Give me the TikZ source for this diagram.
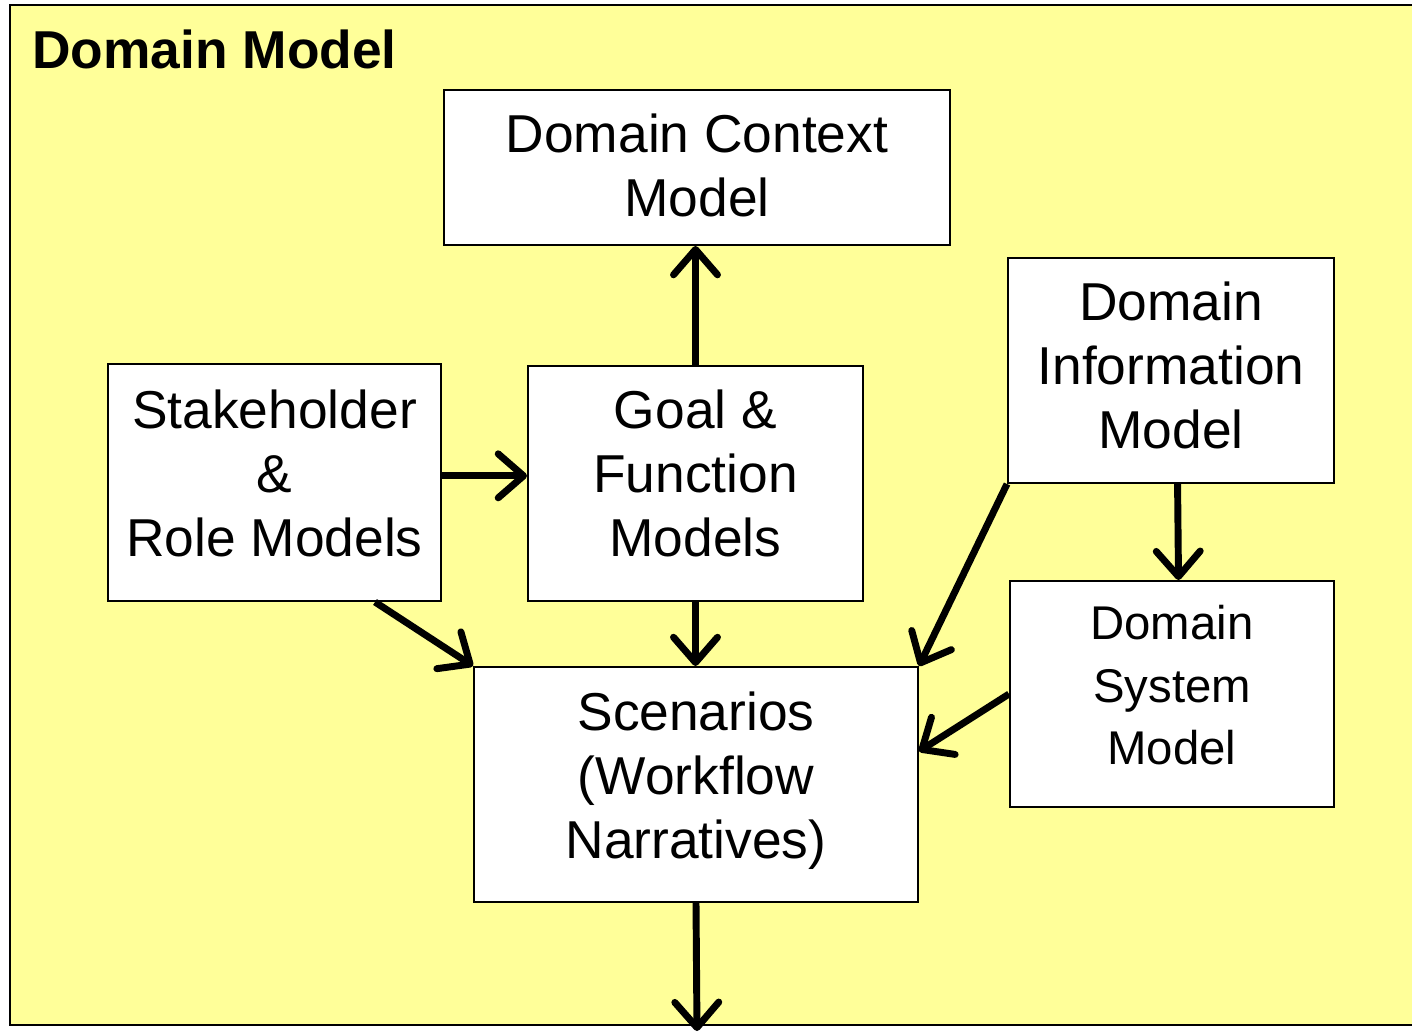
\documentclass[tikz,border=0pt]{standalone}
\usepackage{fontspec}
\setmainfont{Liberation Sans}
\usetikzlibrary{arrows.meta,calc}
\definecolor{bgyellow}{HTML}{FFFF99}
\tikzset{
  box/.style={draw=black, line width=1.5pt, fill=white, inner sep=0pt, align=center,
    font=\fontsize{40}{48}\selectfont},
  arr/.style={line width=5.2pt, -{Straight Barb[length=19pt, width=33pt, round]}},
}
\begin{document}
\begin{tikzpicture}[x=0.75pt, y=-0.75pt]
\clip (0,0) rectangle (1412,1033);
\useasboundingbox (0,0) rectangle (1412,1033);
\fill[white] (0,0) rectangle (1412,1033);
\draw[fill=bgyellow, line width=1.8pt] (10,5) rectangle (1425,1025);
\node[anchor=base west, inner sep=0pt, font=\fontsize{40}{44}\selectfont\bfseries] (title) at (32,68) {Domain Model};

\node[box, text depth=3pt, minimum width=506*0.75pt, minimum height=155*0.75pt] (ctx) at (697,167.5) {Domain Context\\Model};
\node[box, text depth=13.5pt, minimum width=333*0.75pt, minimum height=237*0.75pt] (stake) at (274.5,482.5) {Stakeholder\\\&\\Role Models};
\node[box, text depth=15pt, minimum width=335*0.75pt, minimum height=235*0.75pt] (goal) at (695.5,483.5) {Goal \&\\Function\\Models};
\node[box, text depth=7.5pt, minimum width=326*0.75pt, minimum height=225*0.75pt] (info) at (1171,370.5) {Domain\\Information\\Model};
\node[box, text depth=13.5pt, minimum width=324*0.75pt, minimum height=226*0.75pt, font=\fontsize{35.5}{47}\selectfont] (sys) at (1172,694) {Domain\\System\\Model};
\node[box, text depth=14.4pt, minimum width=444*0.75pt, minimum height=235*0.75pt] (scen) at (696,784.5) {Scenarios\\(Workflow\\Narratives)};
\coordinate (out) at (697,1031);

\draw[arr] (goal.north) -- (goal.north |- ctx.south);
\draw[arr] ([yshift=5pt]stake.east) -- ([yshift=5pt]stake.east -| goal.west);
\draw[arr] (goal.south) -- (goal.south |- scen.north);
\draw[arr] ($(stake.south west)!0.8!(stake.south east)$) -- (scen.north west);
\draw[arr] (info.south west) -- (scen.north east);
\draw[arr] ($(info.south west)!0.52!(info.south east)$) -- ($(sys.north west)!0.52!(sys.north east)$);
\draw[arr] (sys.west) -- ($(scen.north east)!0.36!(scen.south east)$);
\draw[arr] (scen.south) -- (out);
\end{tikzpicture}
\end{document}
